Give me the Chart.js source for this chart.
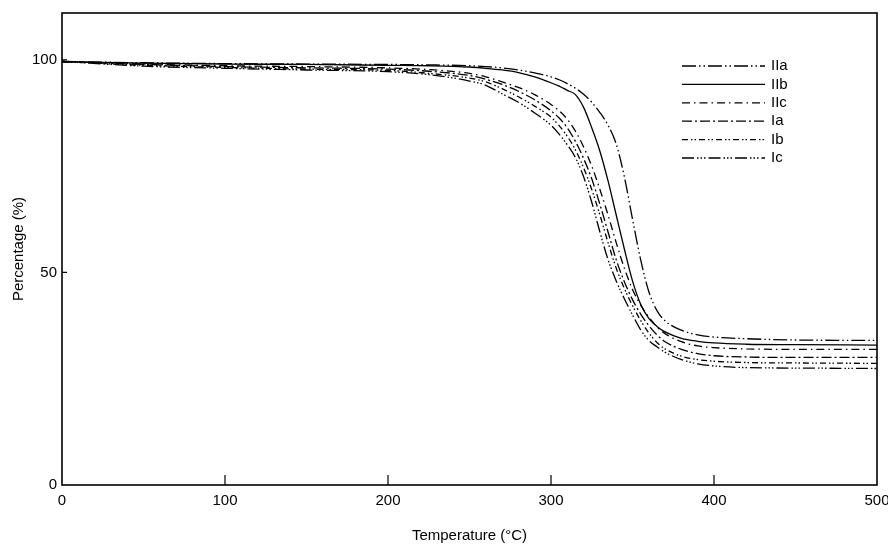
<!DOCTYPE html>
<html>
<head>
<meta charset="utf-8">
<script src="https://cdn.jsdelivr.net/npm/chart.js@4"></script>
<style>
html,body{margin:0;padding:0;background:#fff;}
#wrap{width:888px;height:545px;}
</style>
</head>
<body>
<div id="wrap"><canvas id="c" width="888" height="545"></canvas></div>
<script>
// ---- data ----
const temperatures = [0, 50, 100, 150, 200, 225, 250, 260, 270, 280, 290, 300, 305, 310, 315, 320, 325, 330, 335, 340, 345, 350, 355, 360, 365, 370, 380, 390, 400, 420, 450, 500];
const seriesLabels = ['IIa', 'IIb', 'IIc', 'Ia', 'Ib', 'Ic'];
const pctIIa = [99.6, 99.3, 99.1, 99.0, 98.9, 98.8, 98.6, 98.4, 98.1, 97.6, 96.9, 96.0, 95.3, 94.4, 93.3, 91.9, 90.0, 87.6, 84.6, 80.2, 72.5, 62.5, 53.0, 45.5, 41.0, 38.6, 36.4, 35.3, 34.8, 34.4, 34.1, 34.0];
const pctIIb = [99.6, 99.2, 99.0, 98.9, 98.7, 98.6, 98.3, 98.0, 97.6, 97.0, 96.0, 94.6, 93.8, 92.8, 91.8, 88.8, 84.0, 78.5, 71.5, 63.5, 55.5, 48.0, 42.5, 39.2, 37.3, 36.0, 34.5, 33.8, 33.4, 33.1, 33.0, 32.9];
const pctIIc = [99.6, 99.0, 98.6, 98.4, 98.1, 97.7, 96.8, 96.0, 94.8, 93.5, 91.8, 89.5, 88.0, 86.0, 83.2, 79.5, 75.0, 69.5, 63.5, 57.0, 51.0, 46.0, 42.3, 39.5, 37.2, 35.6, 33.7, 32.7, 32.3, 32.0, 31.9, 31.9];
const pctIa  = [99.6, 98.9, 98.4, 98.1, 97.8, 97.3, 96.3, 95.4, 94.2, 92.6, 90.6, 88.0, 86.3, 84.0, 80.8, 76.8, 72.0, 66.0, 59.5, 53.0, 47.8, 43.6, 40.2, 37.5, 35.3, 33.7, 31.9, 30.9, 30.4, 30.1, 30.0, 30.0];
const pctIb  = [99.6, 98.7, 98.2, 97.8, 97.5, 96.8, 95.7, 94.8, 93.2, 91.3, 89.1, 86.5, 84.5, 82.0, 78.8, 74.6, 69.5, 63.5, 57.0, 51.0, 46.2, 42.2, 38.7, 35.8, 33.5, 32.0, 30.3, 29.5, 29.1, 28.8, 28.7, 28.6];
const pctIc  = [99.6, 98.5, 98.0, 97.6, 97.2, 96.5, 95.0, 94.0, 92.0, 90.0, 87.5, 84.6, 82.5, 80.0, 77.0, 72.5, 66.5, 59.5, 53.0, 48.0, 43.8, 40.0, 36.5, 34.0, 32.5, 31.2, 29.5, 28.5, 28.0, 27.6, 27.5, 27.4];
const xTickValues = [0, 100, 200, 300, 400, 500];
const yTickValues = [0, 50, 100];

// ---- styles ----
const seriesValues = [pctIIa, pctIIb, pctIIc, pctIa, pctIb, pctIc];
const seriesDash = [
  [14, 3, 1.5, 3, 1.5, 3],
  [],
  [8, 4, 1.5, 4],
  [10, 3, 2, 3],
  [6, 3, 1.5, 2, 1.5, 3],
  [12, 3, 1.5, 2, 1.5, 2, 1.5, 3]
];
const FONT = "'Liberation Sans', Arial, sans-serif";

const datasets = seriesLabels.map((lab, i) => ({
  label: lab,
  data: temperatures.map((t, j) => ({x: t, y: seriesValues[i][j]})),
  borderColor: '#000',
  backgroundColor: '#000',
  borderWidth: 1.3,
  borderDash: seriesDash[i],
  pointRadius: 0,
  fill: false,
  cubicInterpolationMode: 'monotone'
}));

const framePlugin = {
  id: 'frame',
  afterDatasetsDraw(chart) {
    const ctx = chart.ctx, a = chart.chartArea;
    const xs = chart.scales.x, ys = chart.scales.y;
    ctx.save();
    ctx.strokeStyle = '#000';
    ctx.setLineDash([]);
    ctx.lineWidth = 1.6;
    ctx.strokeRect(a.left, a.top, a.right - a.left, a.bottom - a.top);
    ctx.lineWidth = 1.2;
    ctx.beginPath();
    xTickValues.forEach(v => {
      if (v === xs.min || v === xs.max) return;
      const px = xs.getPixelForValue(v);
      ctx.moveTo(px, a.bottom);
      ctx.lineTo(px, a.bottom - 10);
    });
    yTickValues.forEach(v => {
      if (v === 0) return;
      const py = ys.getPixelForValue(v);
      ctx.moveTo(a.left, py);
      ctx.lineTo(a.left + 5, py);
    });
    ctx.stroke();
    // legend
    const x1 = a.right - 195, x2 = a.right - 112;
    ctx.font = '15px ' + FONT;
    ctx.fillStyle = '#000';
    ctx.textBaseline = 'middle';
    ctx.textAlign = 'left';
    chart.data.datasets.forEach((ds, i) => {
      const y = a.top + 53 + i * 18.4;
      ctx.beginPath();
      ctx.lineWidth = 1.3;
      ctx.setLineDash(ds.borderDash || []);
      ctx.moveTo(x1, y);
      ctx.lineTo(x2, y);
      ctx.stroke();
      ctx.setLineDash([]);
      ctx.fillText(ds.label, x2 + 6, y);
    });
    ctx.restore();
  }
};

new Chart(document.getElementById('c'), {
  type: 'line',
  data: {datasets},
  options: {
    responsive: false,
    animation: false,
    layout: {padding: {top: 13, right: 11, left: 0, bottom: 0}},
    plugins: {legend: {display: false}, tooltip: {enabled: false}},
    scales: {
      x: {
        type: 'linear', min: 0, max: 500,
        grid: {display: false, drawTicks: false},
        border: {display: false},
        afterBuildTicks: s => { s.ticks = xTickValues.map(v => ({value: v})); },
        ticks: {color: '#000', font: {family: FONT, size: 15}, padding: 7, maxRotation: 0, autoSkip: false},
        title: {display: true, text: 'Temperature (°C)', color: '#000', font: {family: FONT, size: 15}, padding: {top: 0, bottom: 0}},
        afterFit: s => { s.height = 60; s.paddingLeft = 0; s.paddingRight = 0; }
      },
      y: {
        type: 'linear', min: 0, max: 111,
        grid: {display: false, drawTicks: false},
        border: {display: false},
        afterBuildTicks: s => { s.ticks = yTickValues.map(v => ({value: v})); },
        ticks: {color: '#000', font: {family: FONT, size: 15}, padding: 5},
        title: {display: true, text: 'Percentage (%)', color: '#000', font: {family: FONT, size: 15}, padding: {top: 10, bottom: 0}},
        afterFit: s => { s.width = 62; s.paddingTop = 0; s.paddingBottom = 0; }
      }
    }
  },
  plugins: [framePlugin]
});
</script>
</body>
</html>
